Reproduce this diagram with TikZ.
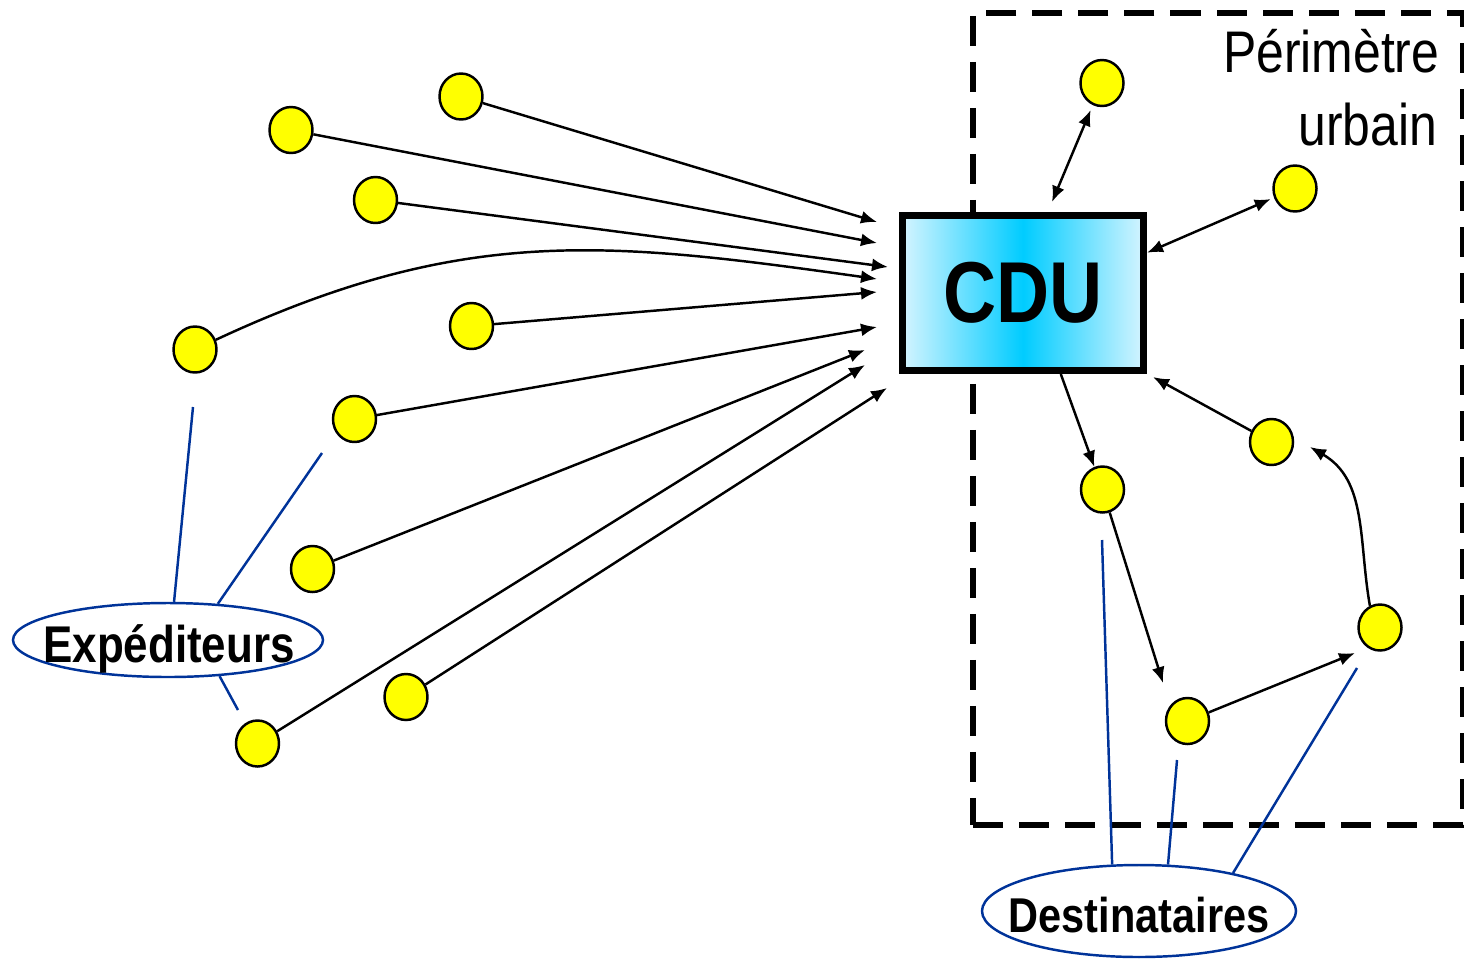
\documentclass[tikz,border=0pt]{standalone}
\usepackage{fontspec}
\newfontfamily\diagfont[FakeStretch=0.85]{Liberation Sans}
\usepackage{tikz}
\usetikzlibrary{arrows.meta}
\usetikzlibrary{positioning}
\usetikzlibrary{shapes.geometric}

\definecolor{dotyellow}{RGB}{255,255,0}
\definecolor{linkblue}{RGB}{0,51,153}
\definecolor{cducyan}{RGB}{0,204,255}
\definecolor{cdulight}{RGB}{212,244,255}

\tikzset{
    sitedot/.style={ellipse, draw=black, line width=0.7pt, fill=dotyellow,
        minimum width=0.43cm, minimum height=0.46cm, inner sep=0pt},
    flowarrow/.style={line width=0.7pt, -{Latex[length=1.6mm,width=1.3mm]}},
    bothways/.style={line width=0.7pt,
        {Latex[length=1.6mm,width=1.3mm]}-{Latex[length=1.6mm,width=1.3mm]}},
    bluelink/.style={draw=linkblue, line width=0.7pt},
    partyellipse/.style={ellipse, draw=linkblue, line width=0.7pt, inner sep=0pt},
    partytext/.style={inner sep=0pt, font=\diagfont\bfseries\fontsize{#1}{#1}\selectfont},
    perimbox/.style={draw=black, line width=1.7pt, dash pattern=on 0.30cm off 0.16cm,
        inner sep=0pt},
    perimtext/.style={inner sep=0pt, anchor=base east,
        font=\diagfont\fontsize{16.7}{20}\selectfont},
    cdubox/.style={draw=black, line width=2pt, left color=cdulight, right color=cdulight,
        middle color=cducyan, minimum width=2.41cm, minimum height=1.55cm, inner sep=0pt,
        font=\diagfont\bfseries\fontsize{24.6}{24.6}\selectfont},
}

\begin{document}
\begin{tikzpicture}
    \useasboundingbox (0,0) rectangle (14.64,-9.58);

    % perimetre urbain
    \node[perimbox, minimum width=4.90cm, minimum height=8.115cm] (perim) at (12.18,-4.19) {};
    \node[perimtext] (perim-l1) at (14.40,-0.72) {Périmètre};
    \node[perimtext] (perim-l2) at (14.38,-1.45) {urbain};

    \node[cdubox] (cdu) at (10.23,-2.93) {CDU};

    % expediteurs
    \foreach \n/\x/\y in {1/4.61/0.965, 2/2.91/1.30, 3/3.755/2.00, 4/1.95/3.495,
            5/4.715/3.26, 6/3.545/4.19, 7/3.125/5.69, 8/4.06/6.97, 9/2.575/7.435}
        \node[sitedot] (src-\n) at (\x,-\y) {};
    \foreach \n/\x/\y in {1/8.77/2.22, 2/8.77/2.43, 3/8.88/2.67, 4/8.77/2.79,
            5/8.77/2.92, 6/8.77/3.27, 7/8.65/3.50, 8/8.87/3.88, 9/8.65/3.65}
        \coordinate (in-\n) at (\x,-\y);
    \foreach \n in {1,2,3,5,6,7,8,9}
        \draw[flowarrow] (src-\n) -- (in-\n);
    \draw[flowarrow] (src-4) to[out=25, in=172, looseness=1.05] (in-4);

    % destinataires
    \foreach \n/\x/\y in {1/11.02/0.83, 2/12.95/1.885, 3/12.715/4.42,
            4/11.025/4.895, 5/13.80/6.275, 6/11.875/7.21}
        \node[sitedot] (dst-\n) at (\x,-\y) {};
    \coordinate (cdu-top) at (10.52,-2.02);
    \coordinate (near-6) at (11.63,-6.83);
    \coordinate (near-5) at (13.55,-6.53);
    \coordinate (near-3) at (13.10,-4.47);
    \coordinate (cdu-corner) at (11.53,-3.77);
    \draw[bothways, shorten <=1.5pt] (dst-1) -- (cdu-top);
    \draw[bothways, shorten <=1pt] (dst-2) -- (cdu.18);
    \draw[flowarrow] (cdu.-65) -- (dst-4);
    \draw[flowarrow] (dst-4) -- (near-6);
    \draw[flowarrow] (dst-6) -- (near-5);
    \draw[flowarrow] (dst-5.115) to[out=100, in=-30] (near-3);
    \draw[flowarrow] (dst-3) -- (cdu-corner);

    % labels
    \node[partyellipse, minimum width=3.10cm, minimum height=0.74cm] (exped) at (1.68,-6.40) {};
    \node[partytext=14.7, anchor=base] (exped-txt) at (1.69,-6.62) {Expéditeurs};
    \coordinate (exp-a) at (1.93,-4.07);
    \coordinate (exp-b) at (3.22,-4.53);
    \coordinate (exp-c) at (2.38,-7.10);
    \draw[bluelink] (exp-a) -- (exped.81);
    \draw[bluelink] (exp-b) -- (exped.36);
    \draw[bluelink] (exp-c) -- (exped.-35);

    \node[partyellipse, minimum width=3.14cm, minimum height=0.92cm] (destin) at (11.39,-9.11) {};
    \node[partytext=13.9, anchor=base] (destin-txt) at (11.39,-9.32) {Destinataires};
    \coordinate (dest-a) at (11.02,-5.40);
    \coordinate (dest-b) at (11.77,-7.60);
    \coordinate (dest-c) at (13.57,-6.68);
    \draw[bluelink] (dest-a) -- (destin.120);
    \draw[bluelink] (dest-b) -- (destin.58);
    \draw[bluelink] (dest-c) -- (destin.22);
\end{tikzpicture}
\end{document}
